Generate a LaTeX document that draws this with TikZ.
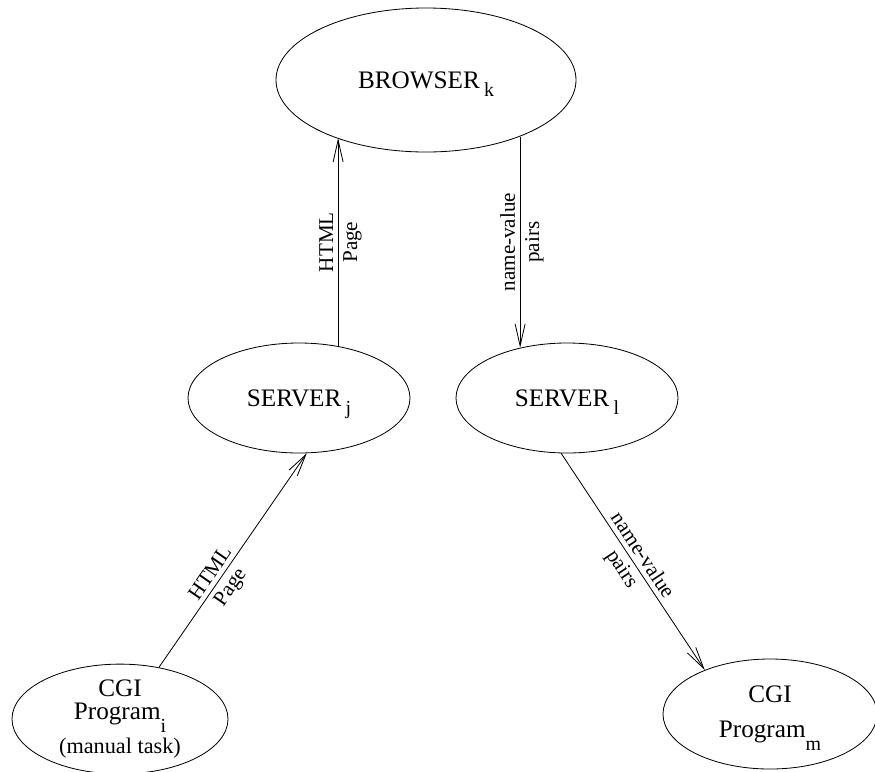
\documentclass[tikz,border=0pt]{standalone}
\usepackage{fontspec}
\setmainfont{Liberation Serif}
\usetikzlibrary{shapes.geometric,arrows.meta}
\newcommand{\idx}[2][-7pt]{\raisebox{#1}[0pt][0pt]{\fontsize{17}{17}\selectfont #2}}

\begin{document}
\begin{tikzpicture}[
          x=0.03cm, y=-0.03cm,
          every node/.style={font=\fontsize{21.5}{25}\selectfont, align=center},
          oval/.style={draw, ellipse, inner sep=0pt, line width=0.7pt},
          lbl/.style={font=\fontsize{18}{20}\selectfont, sloped, inner sep=4pt},
          line width=0.7pt, >={Straight Barb[length=6.6mm, width=3mm]}
        ]
        \useasboundingbox (0,0) rectangle (875,771);

        \node[oval, minimum width=9cm, minimum height=4.32cm] (browser) at (426,80) {BROWSER\,\idx{k}};
        \node[oval, minimum width=6.66cm, minimum height=3.3cm] (serverj) at (299,398) {SERVER\,\idx{j}};
        \node[oval, minimum width=6.66cm, minimum height=3.3cm] (serverl) at (567,398) {SERVER\,\idx{l}};
        \node[oval, minimum width=6.48cm, minimum height=3.12cm] (cgii) at (120,719)
            {CGI\\[-6pt]Program\idx[-11pt]{i}\\[4pt]\fontsize{19}{23}\selectfont(manual task)};
        \node[oval, minimum width=6.42cm, minimum height=3.3cm] (cgim) at (770,714)
            {CGI\\[5pt]Program\idx[-11pt]{m}};

        \draw[->] (serverj.53) -- (serverj.53 |- browser.213)
            node[lbl, midway, above] {HTML} node[lbl, midway, below] {Page};
        \draw[<-] (serverl.133) -- (serverl.133 |- browser.329)
            node[lbl, midway, above] {name-value} node[lbl, midway, below] {pairs};
        \draw[->] (cgii.53) -- (serverj.278)
            node[lbl, pos=0.41, above] {HTML} node[lbl, pos=0.41, below] {Page};
        \draw[->] (serverl.264) -- (cgim.146)
            node[lbl, midway, above] {name-value} node[lbl, midway, below] {pairs};
        \end{tikzpicture}
\end{document}
